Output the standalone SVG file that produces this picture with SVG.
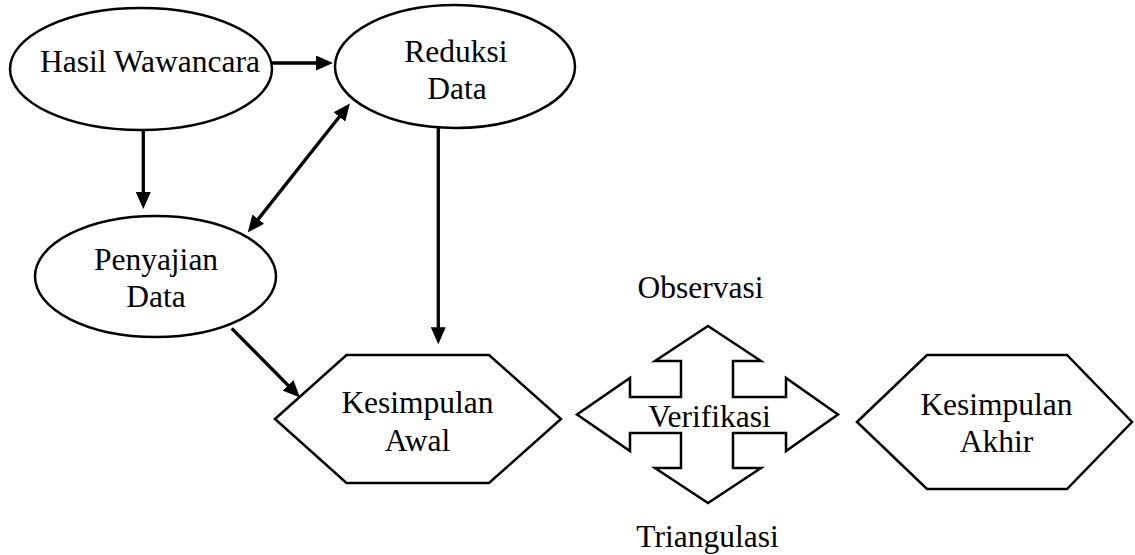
<svg xmlns="http://www.w3.org/2000/svg" width="1135" height="555" viewBox="0 0 1135 555">
<style>
.shape{fill:#fff;stroke:#000;stroke-width:2.5}
.lbl{font-family:"Liberation Serif","Times New Roman",serif;font-size:31.5px;fill:#000;text-anchor:middle}
.conn{stroke:#000;stroke-width:3.3;fill:none}
</style>
<defs>
<marker id="ah" markerUnits="userSpaceOnUse" markerWidth="17" markerHeight="15" refX="8" refY="7.5" orient="auto-start-reverse" viewBox="0 0 17 15">
<path d="M0,0 L17,7.5 L0,15 Z" fill="#000"/>
</marker>
</defs>
<rect width="1135" height="555" fill="#fff"/>
<g id="hasil">
<ellipse class="shape" cx="141" cy="69" rx="131" ry="61"/>
<text class="lbl" x="150" y="72">Hasil Wawancara</text>
</g>
<g id="reduksi">
<ellipse class="shape" cx="455" cy="66.5" rx="120" ry="61.5"/>
<text class="lbl" x="456" y="62">Reduksi</text>
<text class="lbl" x="457" y="99">Data</text>
</g>
<g id="penyajian">
<ellipse class="shape" cx="155.5" cy="276.5" rx="120.5" ry="60.5"/>
<text class="lbl" x="156" y="270">Penyajian</text>
<text class="lbl" x="156" y="306.5">Data</text>
</g>
<g id="kesimpulan-awal">
<polygon class="shape" points="275,419 346.5,355 489,355 561,419 489,483 346.5,483"/>
<text class="lbl" x="417.5" y="413">Kesimpulan</text>
<text class="lbl" x="417.5" y="451">Awal</text>
</g>
<g id="verifikasi">
<polygon class="shape" points="708,326 761,361 733,361 733,397 786,397 786,378 838,414.5 786,451 786,433 733,433 733,468 761,468 708,503 655,468 681,468 681,433 630,433 630,451 577,414.5 630,378 630,397 681,397 681,361 655,361"/>
<text class="lbl" x="709.5" y="426.5">Verifikasi</text>
</g>
<g id="observasi">
<text class="lbl" x="700.5" y="298">Observasi</text>
</g>
<g id="triangulasi">
<text class="lbl" x="707.5" y="546.5">Triangulasi</text>
</g>
<g id="kesimpulan-akhir">
<polygon class="shape" points="857,422 927,355 1067,355 1132,422 1067,489 927,489"/>
<text class="lbl" x="996.5" y="415">Kesimpulan</text>
<text class="lbl" x="996.5" y="451.5">Akhir</text>
</g>
<g id="connectors">
<line class="conn" x1="272" y1="63" x2="324" y2="63" marker-end="url(#ah)"/>
<line class="conn" x1="143.3" y1="130" x2="143.3" y2="200" marker-end="url(#ah)"/>
<line class="conn" x1="344.3" y1="110.6" x2="253.3" y2="225.4" marker-start="url(#ah)" marker-end="url(#ah)"/>
<line class="conn" x1="438.3" y1="128" x2="438.3" y2="335.3" marker-end="url(#ah)"/>
<line class="conn" x1="231.7" y1="328.3" x2="293.7" y2="391" marker-end="url(#ah)"/>
</g>
</svg>
